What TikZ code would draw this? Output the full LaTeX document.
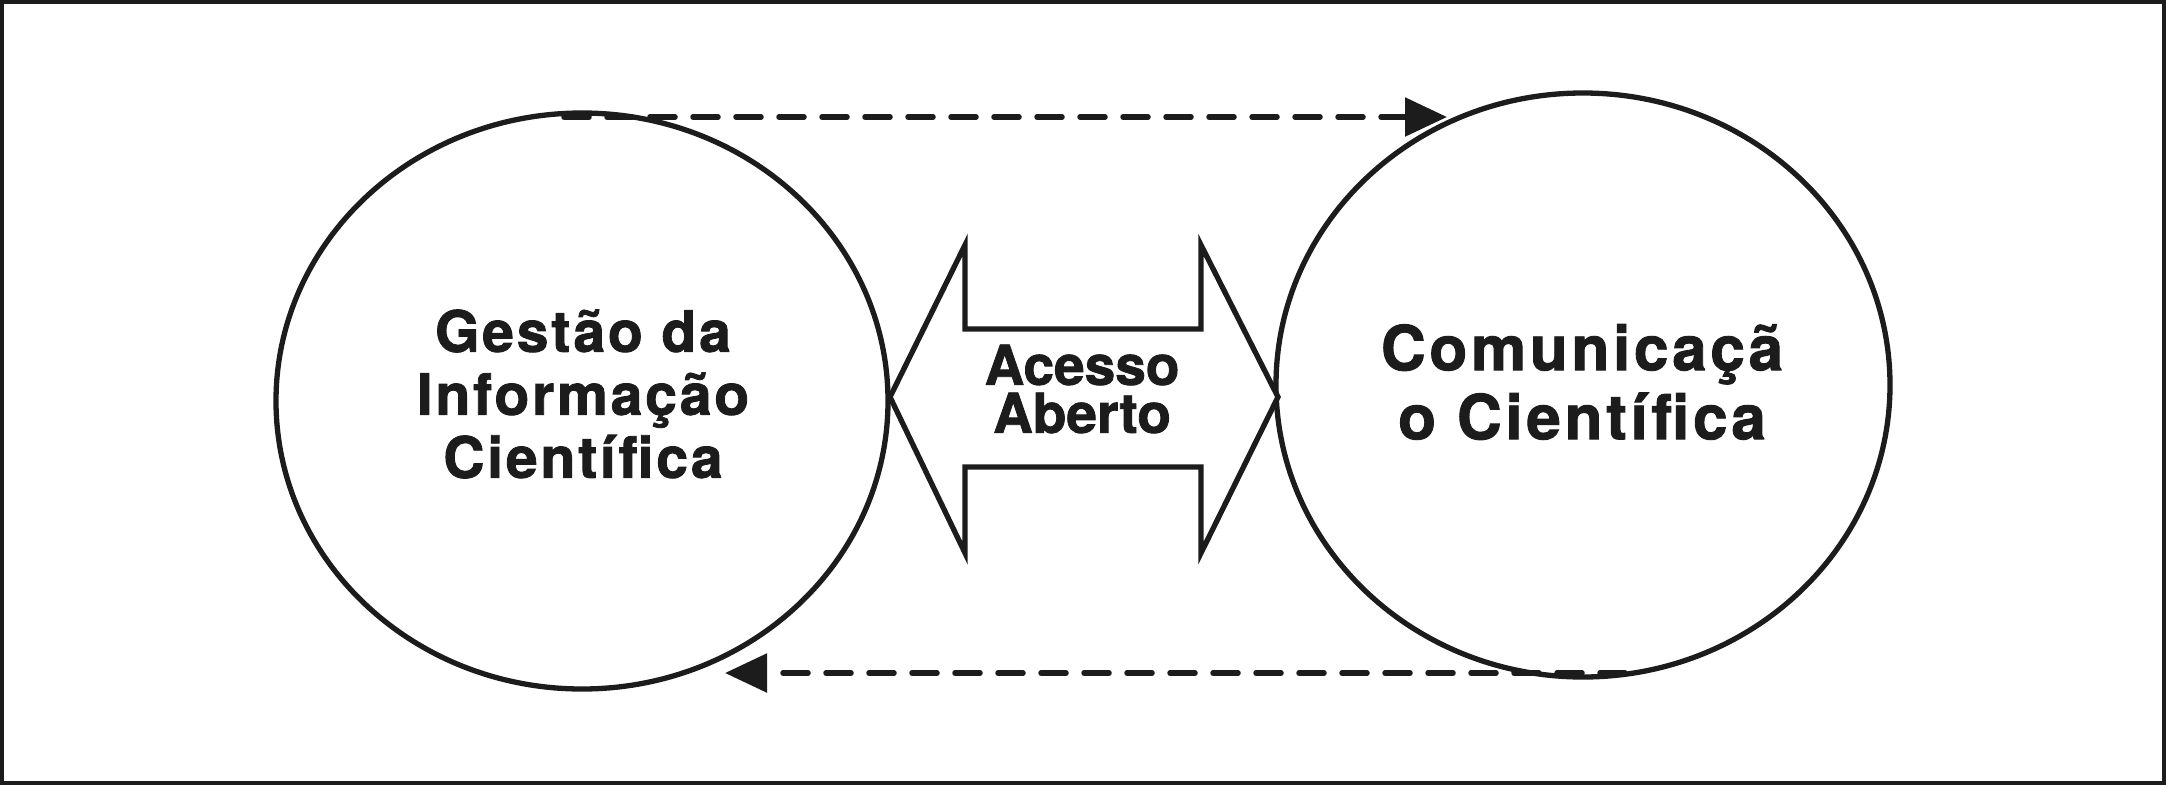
\documentclass[tikz,border=0pt]{standalone}
\usepackage{fontspec}
\setmainfont{TeX Gyre Heros}[BoldFeatures={FakeBold=1.5}]
\newfontfamily\herosL{TeX Gyre Heros}[LetterSpace=5, BoldFeatures={FakeBold=1.5}]
\newfontfamily\herosR{TeX Gyre Heros}[LetterSpace=6, BoldFeatures={FakeBold=1.5}]
\usetikzlibrary{shapes.geometric,arrows.meta}
\definecolor{ink}{HTML}{1C1C1C}
\tikzset{
  bubble/.style={ellipse, draw=ink, line width=5.3pt, inner sep=0pt},
  flow/.style={draw=ink, line width=5.5pt, dash pattern=on 25pt off 18pt, line cap=round,
    -{Triangle[length=42pt,width=38pt]}},
  label/.style={text=ink, align=center, inner sep=0pt},
  frame/.style={draw=ink, line width=4pt}
}
\begin{document}
\begin{tikzpicture}[x=1pt,y=-1pt]
\useasboundingbox (0,0) rectangle (2166,785);
\draw[frame] (2,2) rectangle (2164,783);
% ellipses
\node[bubble, minimum width=612pt, minimum height=576pt] (L) at (582,401) {};
\node[bubble, minimum width=614pt, minimum height=584pt] (R) at (1583,385) {};
% double arrow
\draw[draw=ink, line width=5.3pt, line join=miter, fill=white]
  (890,397) -- (965,245) -- (965,329) -- (1201,329) -- (1201,245) -- (1278,397)
  -- (1201,553) -- (1201,467) -- (965,467) -- (965,553) -- cycle;
% texts
\node[label, font={\herosL\bfseries\fontsize{57}{63}\selectfont}] (Ltext) at (583,394)
  {Gestão da\\Informação\\Científica};
\node[label, font={\herosR\bfseries\fontsize{62}{69}\selectfont}] (Rtext) at (1582,382)
  {Comunicaçã\\o Científica};
\node[label, font={\bfseries\fontsize{55}{48}\selectfont}] (Atext) at (1082,389)
  {Acesso\\Aberto};
% dashed connectors
\coordinate (t1) at (564,117);
\coordinate (t2) at (1447,117);
\coordinate (b1) at (1625,673);
\coordinate (b2) at (725,673);
\draw[flow] (t1) -- (t2);
\draw[flow] (b1) -- (b2);
\end{tikzpicture}
\end{document}
